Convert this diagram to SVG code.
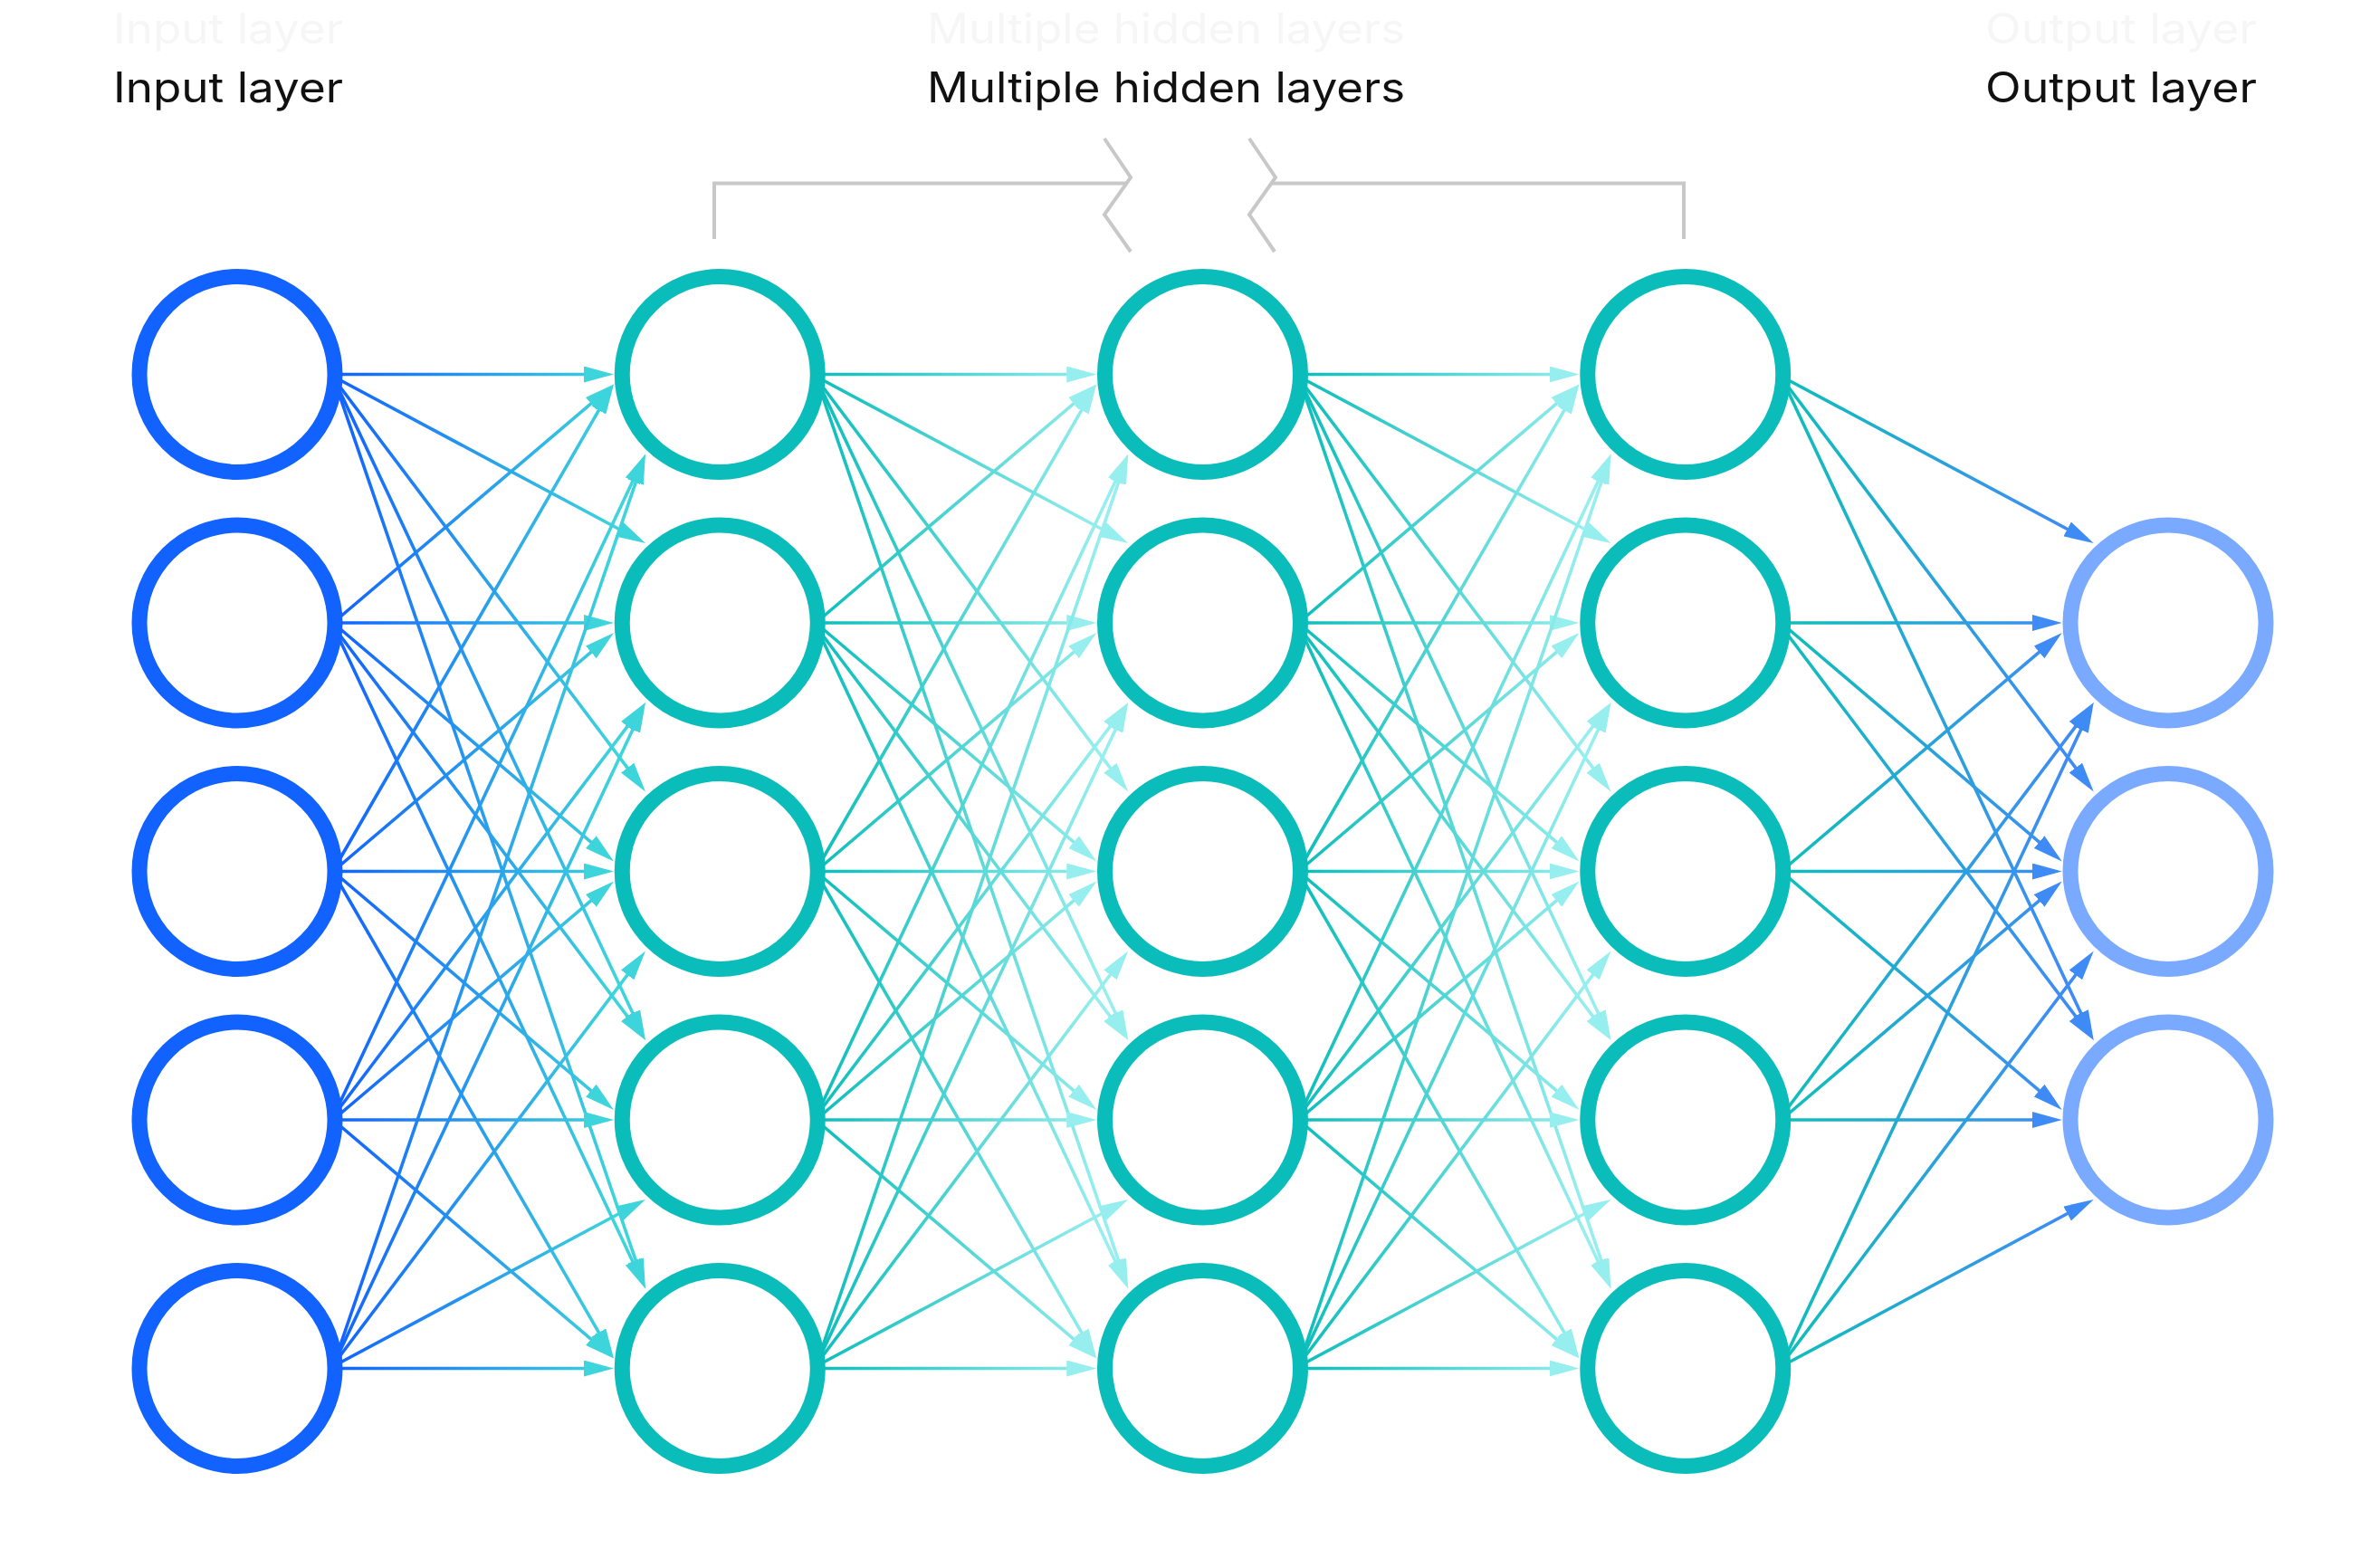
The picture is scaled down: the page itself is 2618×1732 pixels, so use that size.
<svg xmlns="http://www.w3.org/2000/svg" width="2618" height="1732" viewBox="0 0 2618 1732">
<style>
.lbl{font-family:Inter,"Open Sans","Liberation Sans",sans-serif;font-size:46px;fill:#111111}
.ghost{font-family:Inter,"Open Sans","Liberation Sans",sans-serif;font-size:46px;fill:#F6F6F6}
.bracket{fill:none;stroke:#C8C8C8;stroke-width:4}
.in{fill:#FFFFFF;stroke:#1162FF;stroke-width:17}
.hid{fill:#FFFFFF;stroke:#0BBDBA;stroke-width:17}
.out{fill:#FFFFFF;stroke:#79AAFF;stroke-width:17}
.e{fill:none;stroke-width:3.6;stroke-dasharray:975 200}
.e1{stroke:url(#g1);marker-end:url(#m1)}
.e2{stroke:url(#g2);marker-end:url(#m2)}
.e4{stroke:url(#g4);marker-end:url(#m4)}
</style>
<defs>
<linearGradient id="g1" gradientUnits="userSpaceOnUse" x1="113" y1="0" x2="420" y2="0">
<stop offset="0" stop-color="#1263FF"/><stop offset="1" stop-color="#3DD5DB"/>
</linearGradient>
<linearGradient id="g2" gradientUnits="userSpaceOnUse" x1="113" y1="0" x2="420" y2="0">
<stop offset="0" stop-color="#0DBEBB"/><stop offset="1" stop-color="#96EEEE"/>
</linearGradient>
<linearGradient id="g4" gradientUnits="userSpaceOnUse" x1="113" y1="0" x2="420" y2="0">
<stop offset="0" stop-color="#0FBEBA"/><stop offset="1" stop-color="#3E8BF6"/>
</linearGradient>
<marker id="m1" markerUnits="userSpaceOnUse" markerWidth="34" markerHeight="18" refX="33" refY="9" orient="auto" viewBox="0 0 34 18"><path d="M0 0L33 9L0 18Z" fill="#3DD5DB" stroke="none"/></marker>
<marker id="m2" markerUnits="userSpaceOnUse" markerWidth="34" markerHeight="18" refX="33" refY="9" orient="auto" viewBox="0 0 34 18"><path d="M0 0L33 9L0 18Z" fill="#96EEEE" stroke="none"/></marker>
<marker id="m4" markerUnits="userSpaceOnUse" markerWidth="34" markerHeight="18" refX="33" refY="9" orient="auto" viewBox="0 0 34 18"><path d="M0 0L33 9L0 18Z" fill="#3E8BF6" stroke="none"/></marker>
<g id="full">
<path pathLength="1000" d="M113 413.5L416 413.5"/>
<path pathLength="1000" d="M113 419.5L451 600"/>
<path pathLength="1000" d="M113 426.5L451 874.5"/>
<path pathLength="1000" d="M113 431.5L451 1149"/>
<path pathLength="1000" d="M113 436.5L451 1423.5"/>
<path pathLength="1000" d="M113 682L416 424.5"/>
<path pathLength="1000" d="M113 688L416 688"/>
<path pathLength="1000" d="M113 694L416 951.5"/>
<path pathLength="1000" d="M113 701L451 1149"/>
<path pathLength="1000" d="M113 706L451 1423.5"/>
<path pathLength="1000" d="M113 949.5L416 424.5"/>
<path pathLength="1000" d="M113 956.5L416 699"/>
<path pathLength="1000" d="M113 962.5L416 962.5"/>
<path pathLength="1000" d="M113 968.5L416 1226"/>
<path pathLength="1000" d="M113 975.5L416 1500.5"/>
<path pathLength="1000" d="M113 1219L451 501.5"/>
<path pathLength="1000" d="M113 1224L451 776"/>
<path pathLength="1000" d="M113 1231L416 973.5"/>
<path pathLength="1000" d="M113 1237L416 1237"/>
<path pathLength="1000" d="M113 1243L416 1500.5"/>
<path pathLength="1000" d="M113 1488.5L451 501.5"/>
<path pathLength="1000" d="M113 1493.5L451 776"/>
<path pathLength="1000" d="M113 1498.5L451 1050.5"/>
<path pathLength="1000" d="M113 1505.5L451 1325"/>
<path pathLength="1000" d="M113 1511.5L416 1511.5"/>
</g>
</defs>
<rect width="2618" height="1732" fill="#FFFFFF"/>
<g id="labels">
<text class="ghost" x="125" y="48" textLength="254" lengthAdjust="spacingAndGlyphs">Input layer</text>
<text class="ghost" x="1024" y="48" textLength="528" lengthAdjust="spacingAndGlyphs">Multiple hidden layers</text>
<text class="ghost" x="2193" y="48" textLength="300" lengthAdjust="spacingAndGlyphs">Output layer</text>
<text class="lbl" x="125" y="113" textLength="254" lengthAdjust="spacingAndGlyphs">Input layer</text>
<text class="lbl" x="1024" y="113" textLength="528" lengthAdjust="spacingAndGlyphs">Multiple hidden layers</text>
<text class="lbl" x="2193" y="113" textLength="300" lengthAdjust="spacingAndGlyphs">Output layer</text>
</g>
<g id="bracket">
<path class="bracket" d="M789 264V202.5H1245"/>
<path class="bracket" d="M1220 153L1249 196L1220 237L1249 278"/>
<path class="bracket" d="M1380 153L1409 196L1380 237L1408 278"/>
<path class="bracket" d="M1404 202.5H1860V264"/>
</g>
<g id="connectors">
<g class="e e1" transform="translate(262,0)"><use href="#full"/></g>
<g class="e e2" transform="translate(795.25,0)"><use href="#full"/></g>
<g class="e e2" transform="translate(1328.5,0)"><use href="#full"/></g>
<g class="e e4" transform="translate(1861.75,0)">
<path pathLength="1000" d="M113 419.5L451 600"/>
<path pathLength="1000" d="M113 426.5L451 874.5"/>
<path pathLength="1000" d="M113 431.5L451 1149"/>
<path pathLength="1000" d="M113 688L416 688"/>
<path pathLength="1000" d="M113 694L416 951.5"/>
<path pathLength="1000" d="M113 701L451 1149"/>
<path pathLength="1000" d="M113 956.5L416 699"/>
<path pathLength="1000" d="M113 962.5L416 962.5"/>
<path pathLength="1000" d="M113 968.5L416 1226"/>
<path pathLength="1000" d="M113 1224L451 776"/>
<path pathLength="1000" d="M113 1231L416 973.5"/>
<path pathLength="1000" d="M113 1237L416 1237"/>
<path pathLength="1000" d="M113 1493.5L451 776"/>
<path pathLength="1000" d="M113 1498.5L451 1050.5"/>
<path pathLength="1000" d="M113 1505.5L451 1325"/>
</g>
</g>
<g id="input-layer">
<g id="in1"><circle class="in" cx="262" cy="413.5" r="108"/></g>
<g id="in2"><circle class="in" cx="262" cy="688" r="108"/></g>
<g id="in3"><circle class="in" cx="262" cy="962.5" r="108"/></g>
<g id="in4"><circle class="in" cx="262" cy="1237" r="108"/></g>
<g id="in5"><circle class="in" cx="262" cy="1511.5" r="108"/></g>
</g>
<g id="hidden-layer-1">
<g id="h1n1"><circle class="hid" cx="795.25" cy="413.5" r="108"/></g>
<g id="h1n2"><circle class="hid" cx="795.25" cy="688" r="108"/></g>
<g id="h1n3"><circle class="hid" cx="795.25" cy="962.5" r="108"/></g>
<g id="h1n4"><circle class="hid" cx="795.25" cy="1237" r="108"/></g>
<g id="h1n5"><circle class="hid" cx="795.25" cy="1511.5" r="108"/></g>
</g>
<g id="hidden-layer-2">
<g id="h2n1"><circle class="hid" cx="1328.5" cy="413.5" r="108"/></g>
<g id="h2n2"><circle class="hid" cx="1328.5" cy="688" r="108"/></g>
<g id="h2n3"><circle class="hid" cx="1328.5" cy="962.5" r="108"/></g>
<g id="h2n4"><circle class="hid" cx="1328.5" cy="1237" r="108"/></g>
<g id="h2n5"><circle class="hid" cx="1328.5" cy="1511.5" r="108"/></g>
</g>
<g id="hidden-layer-3">
<g id="h3n1"><circle class="hid" cx="1861.75" cy="413.5" r="108"/></g>
<g id="h3n2"><circle class="hid" cx="1861.75" cy="688" r="108"/></g>
<g id="h3n3"><circle class="hid" cx="1861.75" cy="962.5" r="108"/></g>
<g id="h3n4"><circle class="hid" cx="1861.75" cy="1237" r="108"/></g>
<g id="h3n5"><circle class="hid" cx="1861.75" cy="1511.5" r="108"/></g>
</g>
<g id="output-layer">
<g id="out1"><circle class="out" cx="2395" cy="688" r="108"/></g>
<g id="out2"><circle class="out" cx="2395" cy="962.5" r="108"/></g>
<g id="out3"><circle class="out" cx="2395" cy="1237" r="108"/></g>
</g>
</svg>
